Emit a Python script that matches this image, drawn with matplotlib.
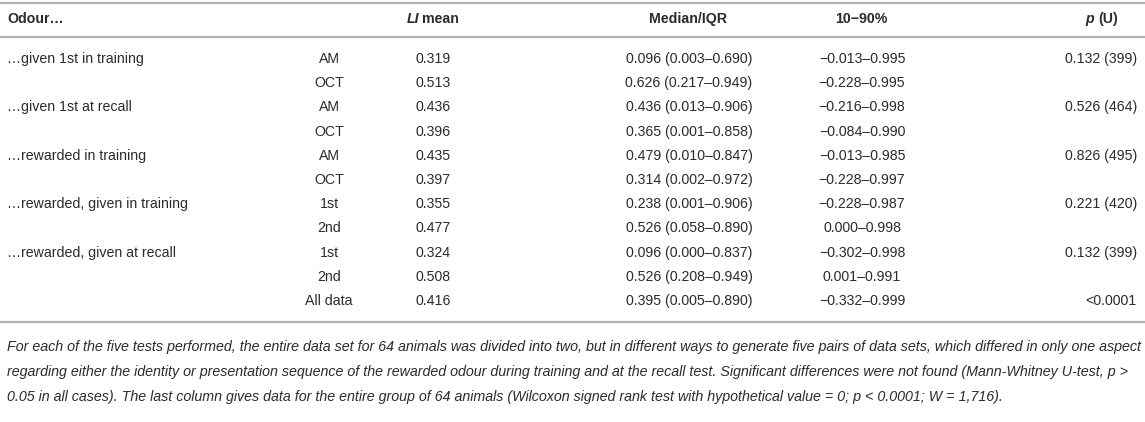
import matplotlib
matplotlib.use('Agg')
import matplotlib.pyplot as plt

# table contents
groups = ['…given 1st in training', '', '…given 1st at recall', '',
          '…rewarded in training', '', '…rewarded, given in training', '',
          '…rewarded, given at recall', '', '']
subgroups = ['AM', 'OCT', 'AM', 'OCT', 'AM', 'OCT', '1st', '2nd', '1st', '2nd', 'All data']
li_mean = ['0.319', '0.513', '0.436', '0.396', '0.435', '0.397', '0.355', '0.477',
           '0.324', '0.508', '0.416']
median_iqr = ['0.096 (0.003–0.690)', '0.626 (0.217–0.949)', '0.436 (0.013–0.906)',
              '0.365 (0.001–0.858)', '0.479 (0.010–0.847)', '0.314 (0.002–0.972)',
              '0.238 (0.001–0.906)', '0.526 (0.058–0.890)', '0.096 (0.000–0.837)',
              '0.526 (0.208–0.949)', '0.395 (0.005–0.890)']
range_10_90 = ['−0.013–0.995', '−0.228–0.995', '−0.216–0.998', '−0.084–0.990',
               '−0.013–0.985', '−0.228–0.997', '−0.228–0.987', '0.000–0.998',
               '−0.302–0.998', '0.001–0.991', '−0.332–0.999']
p_u = ['0.132 (399)', '', '0.526 (464)', '', '0.826 (495)', '', '0.221 (420)', '',
       '0.132 (399)', '', '<0.0001']

footnote = [
    'For each of the five tests performed, the entire data set for 64 animals was divided into two, '
    'but in different ways to generate five pairs of data sets, which differed in only one aspect',
    'regarding either the identity or presentation sequence of the rewarded odour during training '
    'and at the recall test. Significant differences were not found (Mann-Whitney U-test, p >',
    '0.05 in all cases). The last column gives data for the entire group of 64 animals '
    '(Wilcoxon signed rank test with hypothetical value = 0; p < 0.0001; W = 1,716).',
]

W, H = 1145, 422
TXT = '#2b2b2b'
LINE = '#b4b4b4'
FS = 10.2
FAM = ['Liberation Sans', 'DejaVu Sans']

fig = plt.figure(figsize=(W / 100.0, H / 100.0), dpi=100)
ax = fig.add_axes([0, 0, 1, 1])
ax.set_xlim(0, W)
ax.set_ylim(H, 0)
ax.axis('off')

# rules
for y in [3, 37, 322]:
    ax.plot([0, W], [y, y], color=LINE, lw=1.6, solid_capstyle='butt')

# header
hy = 19
kw = dict(fontsize=FS, color=TXT, family=FAM, va='center', fontweight='bold')
ax.text(7, hy, 'Odour…', ha='left', **kw)
ax.text(419, hy, 'LI', ha='right', style='italic', **kw)
ax.text(422, hy, 'mean', ha='left', **kw)
ax.text(688, hy, 'Median/IQR', ha='center', **kw)
ax.text(861, hy, '10−90%', ha='center', **kw)
ax.text(1094, hy, 'p', ha='right', style='italic', **kw)
ax.text(1098, hy, '(U)', ha='left', **kw)

# rows
y0, dy = 59, 24.2
kw = dict(fontsize=FS, color=TXT, family=FAM, va='center')
for i in range(len(subgroups)):
    y = y0 + i * dy
    ax.text(7, y, groups[i], ha='left', **kw)
    ax.text(329, y, subgroups[i], ha='center', **kw)
    ax.text(433, y, li_mean[i], ha='center', **kw)
    ax.text(689, y, median_iqr[i], ha='center', **kw)
    ax.text(862, y, range_10_90[i], ha='center', **kw)
    ax.text(1137, y, p_u[i], ha='right', **kw)

# footnote
for j, line in enumerate(footnote):
    ax.text(7, 347 + j * 25, line, ha='left', va='center', fontsize=10.3,
            style='italic', color=TXT, family=FAM)

fig.savefig('out.png', dpi=100)
